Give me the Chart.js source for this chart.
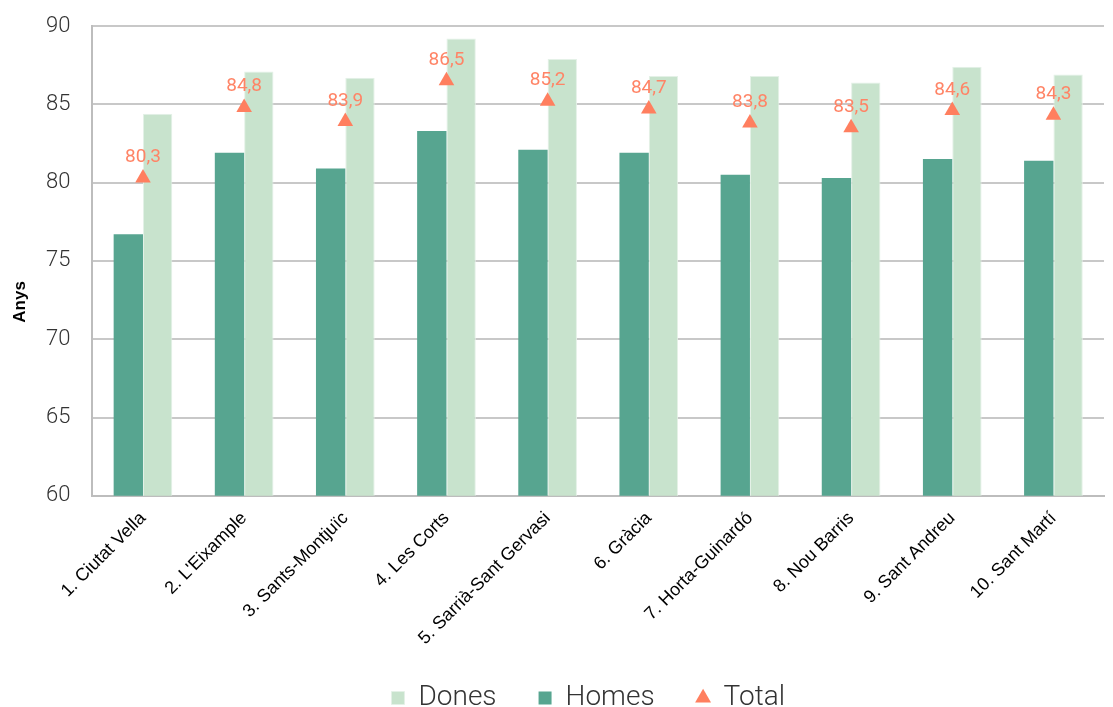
<!DOCTYPE html>
<html><head><meta charset="utf-8">
<script src="https://cdn.jsdelivr.net/npm/chart.js@4/dist/chart.umd.min.js"></script>
<style>html,body{margin:0;padding:0;background:#fff;}#wrap{width:1113px;height:707px;}</style>
</head><body><div id="wrap"><canvas id="c"></canvas></div>
<script>
const categories = ["1. Ciutat Vella","2. L'Eixample","3. Sants-Montjuïc","4. Les Corts","5. Sarrià-Sant Gervasi","6. Gràcia","7. Horta-Guinardó","8. Nou Barris","9. Sant Andreu","10. Sant Martí"];
const homes = [76.7, 81.9, 80.9, 83.3, 82.1, 81.9, 80.5, 80.3, 81.5, 81.4];
const dones = [84.4, 87.1, 86.7, 89.2, 87.9, 86.8, 86.8, 86.4, 87.4, 86.9];
const total = [80.3, 84.8, 83.9, 86.5, 85.2, 84.7, 83.8, 83.5, 84.6, 84.3];
const yTicks = [60, 65, 70, 75, 80, 85, 90];
const yTitle = 'Anys';

const labelPlugin = {
  id: 'totLabels',
  afterLayout(chart) {
    if (chart.legend) { chart.legend.left -= 10; chart.legend.right -= 10; }
  },
  afterDatasetsDraw(chart) {
    const ctx = chart.ctx;
    const meta = chart.getDatasetMeta(2);
    ctx.save();
    ctx.fillStyle = '#FF8466';
    ctx.font = '19px Roboto';
    ctx.textAlign = 'center';
    ctx.textBaseline = 'alphabetic';
    meta.data.forEach((pt, i) => {
      ctx.fillText(total[i].toFixed(1).replace('.', ','), pt.x, pt.y - 16);
    });
    ctx.restore();
    // y axis title
    const ca = chart.chartArea;
    ctx.save();
    ctx.translate(20, (ca.top + ca.bottom) / 2 + 41);
    ctx.rotate(-Math.PI / 2);
    ctx.fillStyle = '#000';
    ctx.font = 'bold 17px "Liberation Sans"';
    ctx.textAlign = 'center';
    ctx.textBaseline = 'middle';
    ctx.fillText(yTitle, 0, 0);
    ctx.restore();
  }
};

new Chart(document.getElementById('c'), {
  type: 'bar',
  data: {
    labels: categories,
    datasets: [
      { label: 'Homes', data: homes, backgroundColor: '#57A590', borderColor: '#57A590', borderWidth: 0, pointStyle: 'rect', order: 2 },
      { label: 'Dones', data: dones, backgroundColor: '#C8E3CD', borderColor: '#E4F1E7', borderWidth: 1, pointStyle: 'rect', order: 2 },
      { label: 'Total', type: 'line', data: total, showLine: false, pointStyle: 'triangle', pointRadius: 9, pointHoverRadius: 9,
        backgroundColor: '#FF7F5F', borderColor: '#FF7F5F', borderWidth: 0, order: 1 }
    ]
  },
  options: {
    responsive: true, maintainAspectRatio: false, animation: false,
    layout: { padding: { top: 26, right: 8, left: 42, bottom: -15 } },
    datasets: { bar: { categoryPercentage: 0.58, barPercentage: 1.0 } },
    scales: {
      x: {
        grid: { display: false, drawTicks: false },
        border: { color: '#BDBDBD', width: 2 },
        ticks: { color: '#000', font: { family: 'Liberation Sans', size: 18 }, maxRotation: 45, minRotation: 45, padding: 12, autoSkip: false },
        afterFit: (s) => { s.height -= 19; s._computeLabelArea = () => undefined; }
      },
      y: {
        min: 60, max: 90,
        afterBuildTicks: (axis) => { axis.ticks = yTicks.map(v => ({ value: v })); },
        grid: { color: '#C8C8C8', lineWidth: 2, drawTicks: true, tickLength: 18, tickColor: 'rgba(0,0,0,0)' },
        border: { color: '#BDBDBD', width: 2 },
        ticks: { color: '#333', font: { family: 'Roboto', size: 22, weight: 300 }, padding: 4 }
      }
    },
    plugins: {
      legend: {
        position: 'bottom', fullSize: false,
        labels: {
          usePointStyle: true, boxWidth: 13, boxHeight: 13, padding: 42,
          color: '#333', font: { family: 'Roboto', size: 28, weight: 300 },
          sort: (a, b) => { const o = { Dones: 0, Homes: 1, Total: 2 }; return o[a.text] - o[b.text]; }
        }
      },
      tooltip: { enabled: false }
    }
  },
  plugins: [labelPlugin]
});
</script>
</body></html>
